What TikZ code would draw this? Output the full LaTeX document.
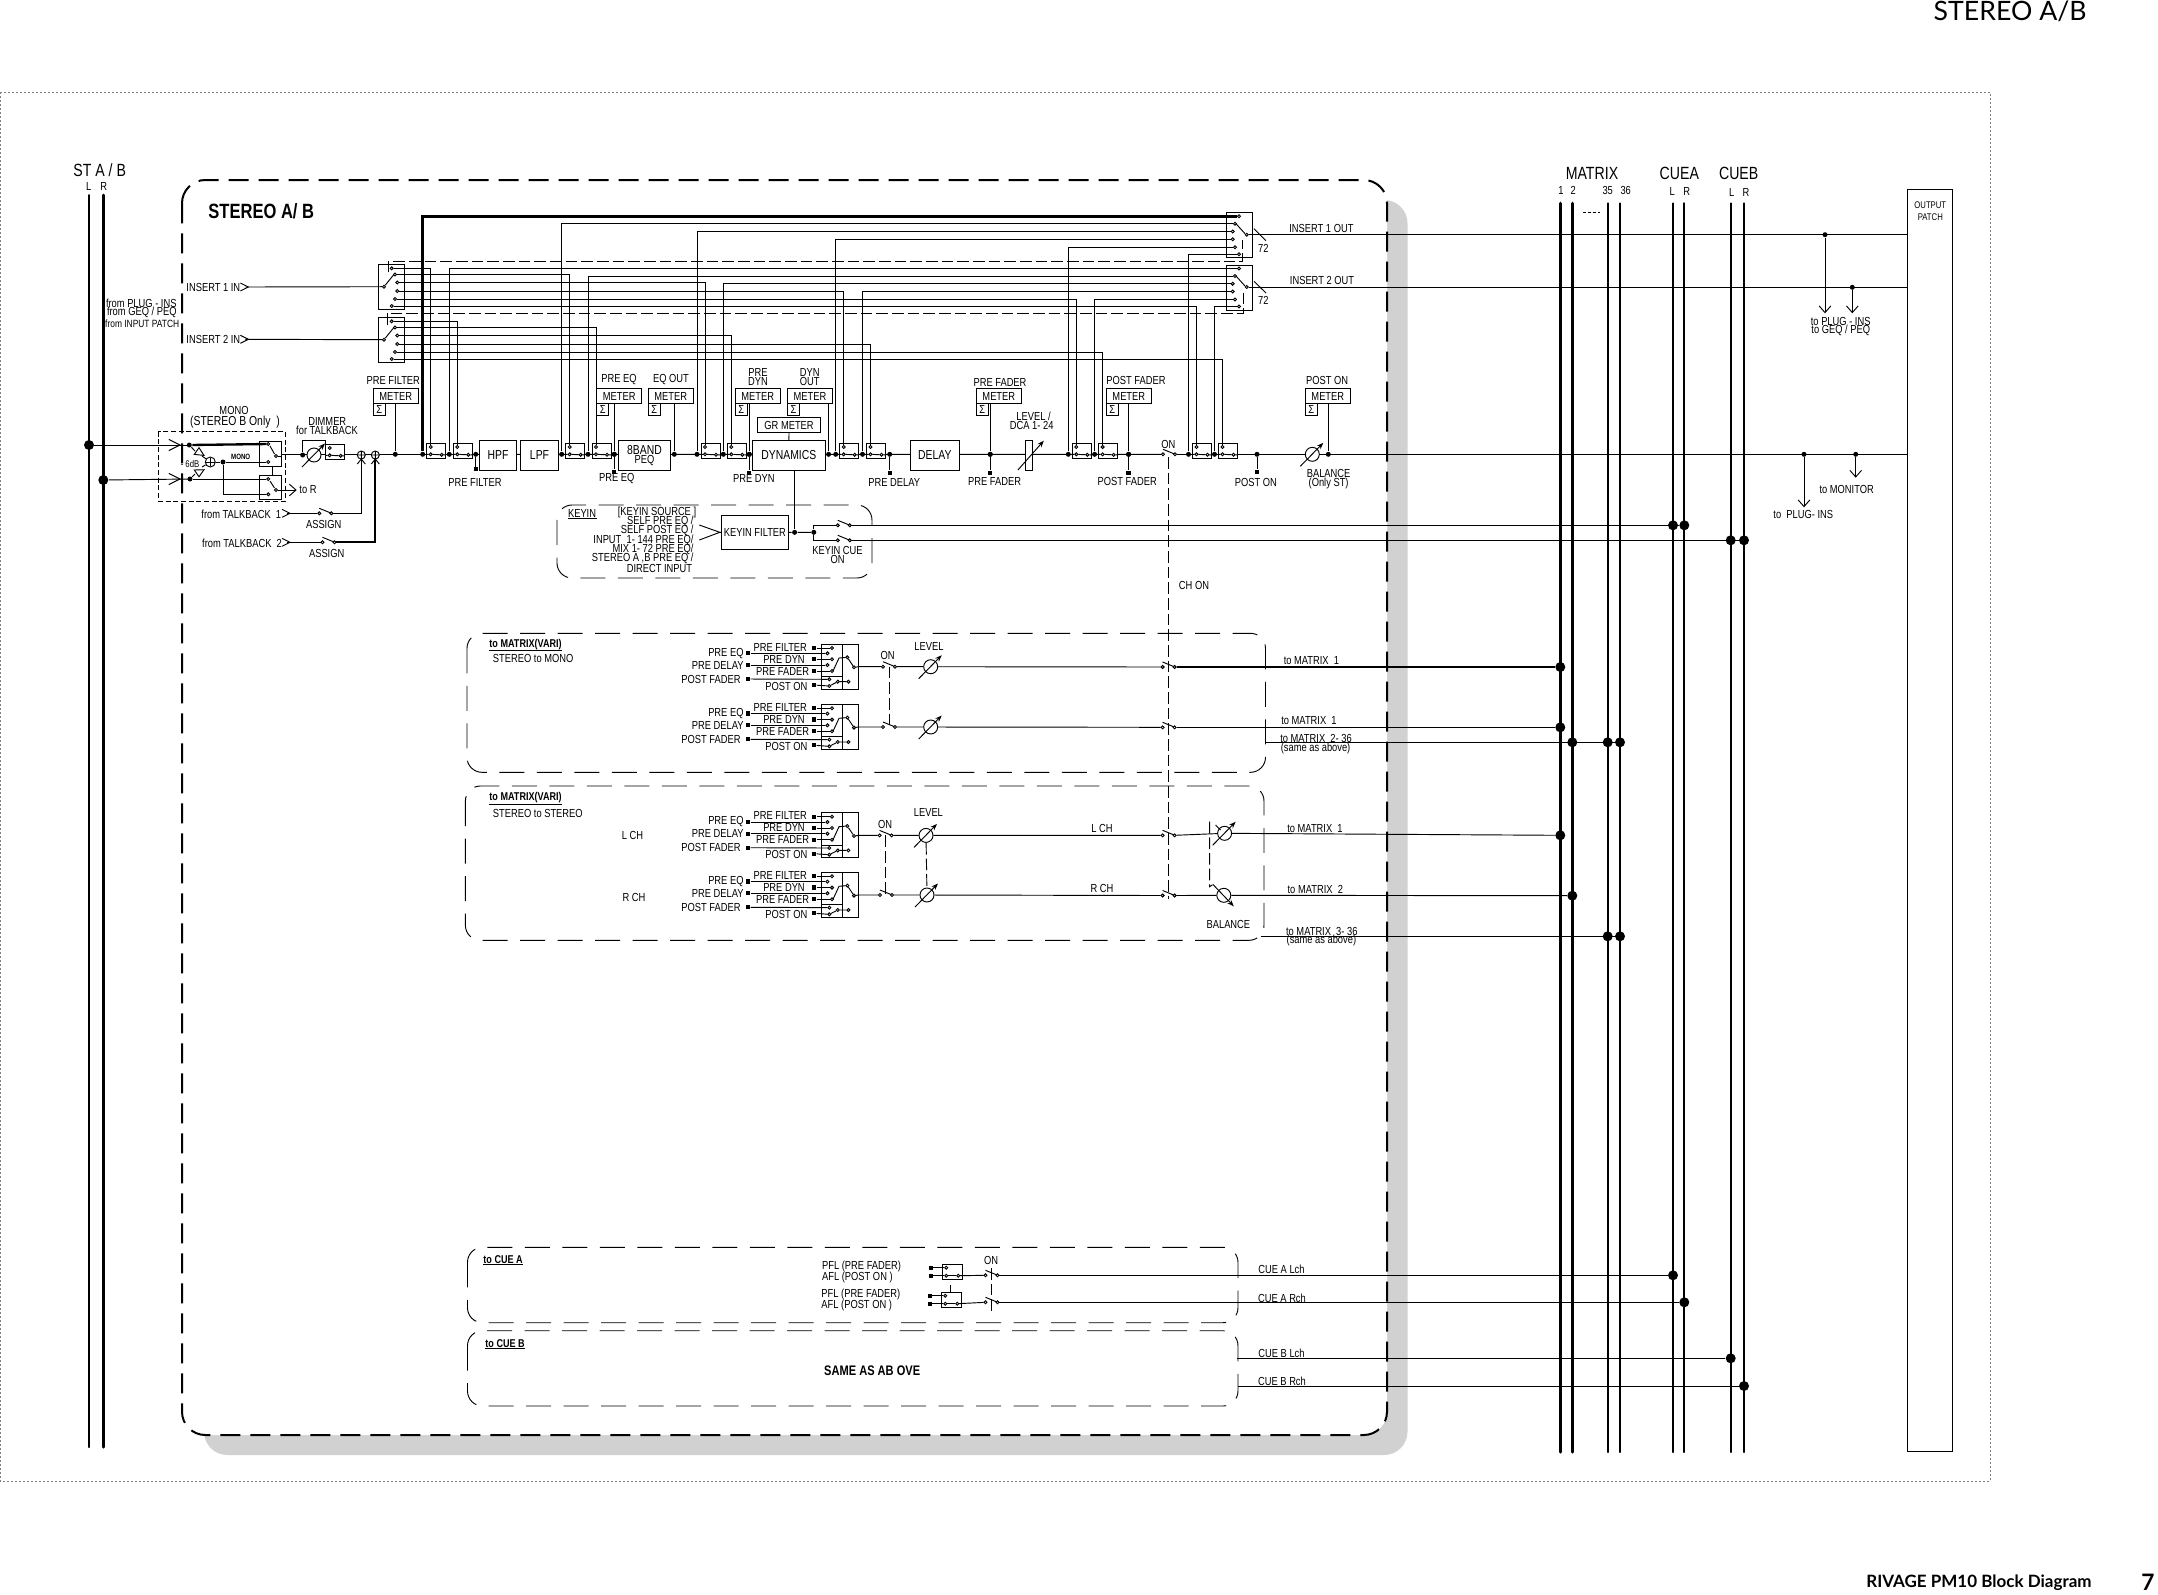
\documentclass[tikz,border=0pt]{standalone}
\usepackage{fontspec}
\setmainfont[FakeStretch=0.8]{Liberation Sans}
\newfontfamily\pagefont{Lato}
\usetikzlibrary{arrows.meta}

\newcommand{\fmain}{\fontsize{3.5}{2.7}\selectfont}
\newcommand{\fblock}{\fontsize{3.9}{3}\selectfont}
\newcommand{\fbig}{\fontsize{5.3}{5.3}\selectfont}
\newcommand{\ftiny}{\fontsize{2.9}{3.2}\selectfont}
\newcommand{\fbold}{\fontsize{3.4}{3.4}\selectfont\bfseries}
\newcommand{\bx}[6]{\node[blk,minimum width={(#4-#2)*0.3pt},minimum height={(#5-#3)*0.3pt}] (#1) at ({(#2+#4)/2},{(#3+#5)/2}) {#6};}

\tikzset{
	blk/.style={draw,fill=white,inner sep=0pt,align=center,font=\fmain},
	lab/.style={inner sep=0pt,align=center,font=\fmain},
	pin/.style={circle,draw,fill=white,inner sep=0pt,minimum size=0.9pt},
	dot/.style={circle,fill=black,inner sep=0pt,minimum size=1.5pt},
	bigdot/.style={circle,fill=black,inner sep=0pt,minimum size=3pt},
	sq/.style={rectangle,fill=black,inner sep=0pt,minimum size=1.3pt},
	bus/.style={line width=#1,line cap=round},
	tobarb/.style={-{Straight Barb[length=2pt,width=3.5pt]}},
	bigdash/.style={line width=0.6pt,dash pattern=on 6pt off 3pt,rounded corners=7pt},
	subdash/.style={dash pattern=on 7.5pt off 3.75pt,rounded corners=4.5pt},
	linkdash/.style={dash pattern=on 3.5pt off 1.2pt},
	faderc/.style={circle,draw,fill=white,inner sep=0pt,minimum size=4.2pt},
	sumc/.style={circle,draw,fill=white,inner sep=0pt,minimum size=2.4pt},
	inmark/.pic={\draw (-8,-4) -- (0,0) -- (-8,4); \coordinate (-o) at (-3,0);},
	onsw/.pic={\node[pin] (-l) at (-6,0) {}; \node[pin] (-r) at (6,0) {}; \draw (-6,-5) -- (5,-0.5);},
	fader/.pic={\node[faderc] (-c) {}; \draw[->] (-12,12) -- (11,-11.5);},
	faderdn/.pic={\node[faderc] (-c) {}; \draw[->] (-11,-11) -- (10,11);},
	sumx/.pic={\node[sumc] (-c) {}; \draw (-4,0) -- (4,0) (0,-4) -- (0,4) (-4,9) -- (0,4) -- (4,9);},
	inline/.pic={
		\node[blk,minimum width=5.7pt,minimum height=4.5pt] (-box) at (9.5,7.5) {};
		\node[pin] (-t) at (4,3.7) {};
		\node[pin] (-l) at (4,11) {};
		\node[pin] (-r) at (15,11.5) {};
		\draw (0,11) -- (-l) (-l) -- (-r) (-r) -- (19,11.5);
	},
	inswitch/.pic={
		\node[blk,minimum width=7.8pt,minimum height=13.5pt] (-box) at (13,22.5) {};
		\foreach \k/\cx/\cy in {1/13.7/4.3,2/17/10.5,3/19.3/18.5,4/19.3/27,5/17/35,6/13.7/42}
			{\node[pin] (-c\k) at (\cx,\cy) {};}
		\node[pin] (-com) at (6,22.7) {};
		\draw (-com) -- (15.5,11);
	},
	outswitch/.pic={
		\node[blk,minimum width=7.9pt,minimum height=13.5pt] (-box) at (13.2,22.5) {};
		\foreach \k/\cx/\cy in {1/12.7/3.5,2/8.7/11,3/6.4/18.8,4/6.4/26.5,5/8.7/34.5,6/12.7/41.5}
			{\node[pin] (-c\k) at (\cx,\cy) {};}
		\node[pin] (-com) at (20.4,22) {};
		\draw (9.7,11) -- (18.7,21);
	},
	sendunit/.pic={
		\node[blk,minimum width=6.42pt,minimum height=13.5pt] (-a) at (87,22.5) {};
		\node[blk,minimum width=4.7pt,minimum height=13.5pt] (-b) at (105.5,22.5) {};
		\node[blk,minimum width=6.42pt,minimum height=3.7pt] (-c) at (87,38.8) {};
		\foreach \k/\cx/\cy in {1/87/4,2/82.4/9.3,3/87/15.3,4/82.4/21,5/87/27}
			{\node[pin] (-p\k) at (\cx,\cy) {};}
		\node[pin] (-q1) at (102.3,13.3) {};
		\node[pin] (-q2) at (103.4,37.7) {};
		\node[pin] (-out) at (109,23.3) {};
		\node[pin] (-l1) at (84.3,35.3) {};
		\node[pin] (-l2) at (84.3,42) {};
		\node[pin] (-l3) at (92.8,37.7) {};
		\foreach \k/\cx/\cy in {2/3/9.3,4/3/21,6/3/35,1/69/4,3/69/15.3,5/69/27,7/69/41}
			{\node[sq] (-s\k) at (\cx,\cy) {};}
		\foreach \k in {1,2,3,4,5} {\draw (-s\k) -- (-p\k);}
		\draw (-s6) -- (-l1) (-s7) -- (-l2) (-l2) -- (-l3) (-l3) -- (-q2);
		\draw (88,27) -- (94,14) -- (-q1) (-q1) -- (-out);
		\node[lab,anchor=east] (-t1) at (-1,9.3) {PRE EQ};
		\node[lab,anchor=east] (-t2) at (-1,21) {PRE DELAY};
		\node[lab,anchor=east] (-t3) at (-4,35) {POST FADER};
		\node[lab] (-t4) at (35.3,3) {PRE FILTER};
		\node[lab] (-t5) at (39,15) {PRE DYN};
		\node[lab] (-t6) at (37.6,27) {PRE FADER};
		\node[lab] (-t7) at (41.4,42) {POST ON};
	},
	cuesel/.pic={
		\node[blk,minimum width=6pt,minimum height=4.6pt] (-box) at (10,7.7) {};
		\node[sq] (-s1) at (-11.5,3.4) {};
		\node[sq] (-s2) at (-11.5,11.4) {};
		\node[pin] (-p1) at (4,3.4) {};
		\node[pin] (-p2) at (4,11.4) {};
		\node[pin] (-r) at (16,11.4) {};
		\draw (-s1) -- (-p1) (-s2) -- (-p2) (-p2) -- (-r) (-r) -- (20,11.4);
	}
}

\begin{document}
\begin{tikzpicture}[x=0.3pt,y=-0.3pt,line width=0.28pt,>={Stealth[length=2pt,width=1.5pt]}]
	\useasboundingbox (0,0) rectangle (2158,1594);

	% page texts and frame
	\node[inner sep=0pt,font=\pagefont\fontsize{8}{8}\selectfont,anchor=east] (pagetitle) at (2087,11.5) {STEREO A/B};
	\node[inner sep=0pt,font=\pagefont\fontsize{5.1}{5.1}\selectfont\bfseries,anchor=east] (pagefoot) at (2092,1583) {RIVAGE PM10 Block Diagram};
	\node[inner sep=0pt,font=\pagefont\fontsize{6.8}{6.8}\selectfont\bfseries,anchor=east] (pagenum) at (2155,1582.5) {7};
	\draw[gray,line width=0.25pt,dash pattern=on 0.6pt off 0.6pt] (0.5,92) rectangle (1990,1481);

	% channel block with its shadow
	\fill[black!18,rounded corners=7pt] (204,200) rectangle (1407.5,1455);
	\fill[white,rounded corners=7pt] (182,180) rectangle (1387,1435);
	\draw[bigdash] (182,180) rectangle (1387,1435);
	\draw[subdash] (467,633.3) rectangle (1265.5,772.3);
	\draw[subdash] (465.4,786) rectangle (1264,940.3);
	\draw[subdash] (467.5,1247.3) rectangle (1238,1322.7);
	\draw[subdash] (467.5,1330.7) rectangle (1238,1406);
	\draw[subdash] (557,505) rectangle (872,578);
	\draw[dash pattern=on 1.5pt off 0.8pt] (158.3,431.7) rectangle (285.7,501);

	% busses
	\foreach \n/\x/\w in {stl/89/0.6pt,str/103.3/0.9pt}
		{\draw[bus=\w] (\x,195) coordinate (\n a) -- (\x,1447) coordinate (\n b);}
	\foreach \n/\x/\w in {m1/1560.3/0.95pt,m2/1572.3/0.95pt,m35/1607.7/0.6pt,m36/1620/0.6pt,cal/1673/0.6pt,car/1684.3/0.7pt,cbl/1730.7/0.6pt,cbr/1744/0.6pt}
		{\draw[bus=\w] (\x,203.3) coordinate (\n a) -- (\x,1452) coordinate (\n b);}
	\draw[dash pattern=on 0.9pt off 0.6pt] (1583,212.3) coordinate (mdots) -- (1600,212.3);
	\bx{patch}{1907.3}{189.3}{1952.7}{1451}{}
	\node[lab,font=\ftiny] (patchtxt) at (1930.3,211) {OUTPUT\\[0.5pt]PATCH};

	\foreach \n/\x/\y in {dL/89/445,dR/103.3/480,dm1/1560.3/667,dm2/1560.3/727.3,dma/1572.3/742.3,dmb/1607.7/742.3,dmc/1620/742.3,dm3/1560.3/835.3,dm4/1572.3/895.7,dmd/1607.7/936.3,dme/1620/936.3,dka/1673/525.3,dkb/1684.3/525.3,dkc/1730.7/540.3,dkd/1744/540.3,dca/1673/1275.3,dcb/1684.3/1302.3,dcc/1730.7/1358.3,dcd/1744/1386}
		{\node[bigdot] (\n) at (\x,\y) {};}

	% main line, drawn under the boxes
	\coordinate (mnA) at (281.7,454.5);
	\pic (onm) at (1169,454.3) {onsw};
	\draw (mnA) -- (onm-l);
	\draw (onm-r) -- (onm-r -| patch.west);

	% filters and processors
	\bx{hpf}{479.3}{440.7}{516.7}{470.3}{\fblock HPF}
	\bx{lpf}{520.3}{440.7}{558.7}{470.3}{\fblock LPF}
	\bx{peq}{618.3}{440.7}{670.7}{470.3}{\fblock 8BAND\\PEQ}
	\bx{dyn}{752.2}{440.3}{825.4}{470.3}{\fblock DYNAMICS}
	\bx{grm}{757.6}{417.3}{820.5}{432.7}{GR METER}
	\bx{dly}{910.3}{440.3}{959.4}{470.3}{\fblock DELAY}
	\bx{lvl}{1025.4}{440.3}{1032.6}{470.3}{}
	\draw[->] (1017.9,470) -- (1043.8,440.7);
	\draw (grm) -- (dyn);
	\pic (balm) at (1312.3,454.3) {fader};

	% insert switches
	\pic (is1) at (378,264) {inswitch};
	\pic (is2) at (378,317) {inswitch};
	\pic (os1) at (1226.3,212.7) {outswitch};
	\pic (os2) at (1226.3,265) {outswitch};
	\pic (mk1) at (248.4,287) {inmark};
	\pic (mk2) at (248.4,339.3) {inmark};
	\draw (mk1-o) -- (is1-com);
	\draw (mk2-o) -- (is2-com);
	\draw (os1-com) -- (os1-com -| patch.west);
	\draw (os2-com) -- (os2-com -| patch.west);
	\draw (1254,228.7) -- (1266,240.7);
	\draw (1254,281.3) -- (1266,293);
	\draw[linkdash] (388,272) |- (1242.7,261.7) -- (1242.7,240);
	\draw[linkdash] (387,325) |- (1243.7,313) -- (1243.7,292);

	% inline insert points
	\foreach \n/\sa/\sb/\w in {1/422.7/449.3/0.8,2/561.7/588/0.28,3/697/723.3/0.28,4/835.7/862.5/0.28,5/1068.3/1094.6/0.28,6/1188.5/1214.5/0.28}{
		\pic (sa\n) at (\sa+4,443.3) {inline};
		\pic (sb\n) at (\sb+4,443.3) {inline};
		\node[dot] (ma\n) at (\sa,454.3) {};
		\node[dot] (mb\n) at (\sb,454.3) {};
		\draw[line width=\w pt] (ma\n) |- (os1-c\n);
		\draw (mb\n) |- (os2-c\n);
		\draw (is1-c\n) -| (sa\n-t);
		\draw (is2-c\n) -| (sb\n-t);
	}

	% meters
	\foreach \n/\x/\lx in {a/373.3/395.3,b/596.7/614.3,c/648.3/674.3,d/735.3/749.2,e/787.5/828.6,f/976.3/990.2,g/1106.3/1128.6,h/1305.3/1328.3}{
		\node[blk,minimum width=13.5pt,minimum height=4.6pt] (mt\n) at (\x+22.5,396) {METER};
		\node[blk,minimum width=3.6pt,minimum height=3.5pt] (sg\n) at (\x+6,409.6) {Σ};
		\node[dot] (tp\n) at (\lx,454.3) {};
		\draw (tp\n |- mt\n.south) -- (tp\n);
	}

	% direct out taps
	\foreach \n/\x/\y in {a/475.7/469.3,b/614.3/471.7,c/749.3/472.7,d/889.7/472.7,e/990.2/472.7,f/1128.6/472.7,g/1257/472}{
		\node[dot] (dt\n) at (\x,454.3) {};
		\node[sq] (ds\n) at (\x,\y) {};
		\draw (dt\n) -- (ds\n);
	}

	% mono section
	\draw (dL) -- (189.3,445) coordinate (mL);
	\draw (dR) -- (190,479) coordinate (mR);
	\pic[scale=1.4] (mkL) at (180,445) {inmark};
	\pic[scale=1.4] (mkR) at (180,479) {inmark};
	\node[dot] (mLd) at (mL) {};
	\node[dot] (mRd) at (mR) {};
	\bx{msa}{259.3}{441.7}{281.7}{466.7}{}
	\bx{msb}{259.3}{475.3}{281.7}{499.3}{}
	\foreach \n/\x/\y in {a1/268.3/444,a2/268.3/462,a3/276/456,b1/268.3/479,b2/268.3/494.3,b3/276/490}
		{\node[pin] (ms\n) at (\x,\y) {};}
	\draw[line width=0.7pt] (mLd) -- (msa1);
	\draw (mRd) -- (msb1);
	\draw (270,446) -- (274.5,454) (270,481) -- (274.5,488);
	\draw (msa3) -- (msa3 -| msa.east);
	\draw (272.7,466.7) -- (272.7,475.3);
	\draw[tobarb] (msb3) -- (296.7,490) coordinate (toR);
	\node[sumc,minimum size=3pt] (msum) at (210.3,462) {};
	\draw (206,462) -- (214.6,462) (210.3,457.7) -- (210.3,466.3);
	\node[dot] (mjn) at (223,462) {};
	\draw (msum) -- (mjn) -- (msa2);
	\draw (mjn) |- (msb2);
	\draw (mLd) -- (195,451) (202,456) -- (msum);
	\draw (mRd) -- (195,474) (202,467) -- (msum);
	\draw[fill=white] (194.3,454.4) -- (199,447.7) -- (204,455.4) -- cycle;
	\draw[fill=white] (194.3,470) -- (204,469.7) -- (199,476.7) -- cycle;
	\node[lab,font=\ftiny] (m6db) at (190,464.3) {- 6dB};
	\node[lab,font=\fontsize{2.3}{2.3}\selectfont\bfseries] (mmono) at (240.7,457.3) {MONO};

	% dimmer and talkback
	\node[dot] (dimd) at (302.7,455) {};
	\pic (dimf) at (314,455) {fader};
	\pic (dimsw) at (325.7,444.3) {inline};
	\draw (dimd) |- (325.7,440.7) -- (325.7,444.3);
	\pic (sm1) at (361.3,455) {sumx};
	\pic (sm2) at (375.3,455) {sumx};
	\pic (mk3) at (290,513.3) {inmark};
	\pic (mk4) at (290,542.3) {inmark};
	\pic (asg1) at (325.3,513.3) {onsw};
	\pic (asg2) at (328.5,542.3) {onsw};
	\draw (mk3-o) -- (asg1-l);
	\draw (mk4-o) -- (asg2-l);
	\draw (asg1-r) -| (sm1-c);
	\draw[line width=0.6pt] (asg2-r) -| (sm2-c);

	% key in
	\bx{kfl}{721.4}{515.7}{788.4}{549.3}{KEYIN FILTER}
	\draw (699.3,525) -- (719.8,532.3) coordinate (kgt) -- (699.3,540);
	\draw (kgt) -- (kfl);
	\node[dot] (kfd) at (794.6,532.3) {};
	\node[dot] (kfj) at (813.8,532.3) {};
	\draw (kfl) -- (kfd) -- (kfj);
	\draw (dyn.south -| kfd) -- (kfd);
	\pic (kon1) at (843.8,525.3) {onsw};
	\pic (kon2) at (843.8,540.3) {onsw};
	\draw (kon1-l) -| (kfj) |- (kon2-l);
	\draw (kon1-r) -- (dkb);
	\draw (kon2-r) -- (dkd);

	% sends to matrix
	\draw[linkdash] (1168.3,457) coordinate (cha) -- (1168.3,899) coordinate (chend);
	\foreach \n/\y/\lx/\fx/\chy in {1/644/889/930.7/667,2/704.3/889/930.7/727.3,3/812.7/885.6/926/835.3,4/872.3/886/927/895.5}{
		\pic (su\n) at (745,\y) {sendunit};
		\pic (on\n) at (\lx,\y+22.7) {onsw};
		\pic (fd\n) at (\fx,\y+22.7) {fader};
		\pic (ch\n) at (1168.6,\chy) {onsw};
		\draw (su\n-out) -- (su\n-b.east |- on\n-l) -- (on\n-l);
		\draw (on\n-r) -- (fd\n-c) -- (ch\n-l);
	}
	\draw[linkdash] (889.4,666.7) coordinate (lka) -- (889.4,727) coordinate (lkb);
	\draw[linkdash] (885.6,835.4) coordinate (lkc) -- (885.6,895) coordinate (lkd);
	\draw[linkdash] (fd3-c) -- (fd4-c);
	\draw[line width=0.6pt] (ch1-r) -- (dm1);
	\draw (ch2-r) -- (dm2);
	\draw (1265.5,742.3) coordinate (m36start) -- (dmc);
	\pic (bal1) at (1224.6,833.3) {fader};
	\pic (bal2) at (1223.8,895.3) {faderdn};
	\draw (ch3-r) -- (bal1-c) -- (dm3);
	\draw (ch4-r) -- (bal2-c) -- (dm4);
	\draw (1260.5,936.3) coordinate (m3start) -- (dme);
	\draw (1215.6,825) -- (1220.5,830);
	\draw[linkdash] (1209.6,821.7) coordinate (bala) -- (1209.6,886.7) coordinate (balb) -- (1212.3,885);

	% sends to cue
	\pic (cs1) at (942.2,1264.3) {cuesel};
	\pic (cs2) at (941.2,1292.3) {cuesel};
	\pic (con1) at (991.5,1275.3) {onsw};
	\pic (con2) at (991.5,1302.3) {onsw};
	\draw (cs1-r) -- (con1-l);
	\draw (cs2-r) -- (con2-l);
	\draw (con1-r) -- (dca);
	\draw (con2-r) -- (dcb);
	\draw[linkdash] (991,1268) coordinate (cla) -- (991,1313) coordinate (clb);
	\draw (950.8,1285) coordinate (clc) -- (950.8,1292.3);
	\draw (1237,1358.3) coordinate (cbs) -- (dcc);
	\draw (1238,1386) coordinate (cbe) -- (dcd);

	% output taps
	\node[dot] (ota) at (1825,234.7) {};
	\node[dot] (otb) at (1852.3,287.3) {};
	\node[dot] (otc) at (1804,454.3) {};
	\node[dot] (otd) at (1855.7,454.3) {};
	\draw[tobarb] (ota) -- (1825,313.3) coordinate (ara);
	\draw[tobarb] (otb) -- (1852.3,313.3) coordinate (arb);
	\draw[tobarb] (otc) -- (1804,507.3) coordinate (arc);
	\draw[tobarb] (otd) -- (1855.7,477.7) coordinate (ard);

	% labels
	\foreach \x/\y/\txt [count=\n] in {99.7/170/{ST A / B},1592/173.3/MATRIX,1679.3/173.3/CUEA,1738.7/173.3/CUEB}
		{\node[lab,font=\fbig] (hd\n) at (\x,\y) {\txt};}
	\foreach \x/\y/\txt [count=\n] in {88.6/186.7/L,103.7/186.7/R,1561/190.7/1,1573.3/190.7/2,1607.7/190.7/35,1625.7/190.7/36,1672.3/191.7/L,1686.7/191.7/R,1731.7/192.3/L,1746/192.3/R,
		234/410.7/MONO,235/421.7/{\fontsize{3.9}{3}\selectfont (STEREO B Only\ \ )},327.3/421.7/DIMMER,327/430.7/for TALKBACK,
		393.3/380/PRE FILTER,619/380/PRE EQ,671/380/EQ OUT,758/372.3/PRE,758/381.3/DYN,809.8/372.3/DYN,809.8/381.3/OUT,1000/382/PRE FADER,1136/380/POST FADER,1327.2/380/POST ON,
		1033.5/416/{LEVEL /},1031.7/425.3/DCA 1- 24,1168.3/444.3/ON,1321.4/228.3/INSERT 1 OUT,1322/280/INSERT 2 OUT,1263.3/248.3/72,1263.3/300.7/72,
		475/482.3/PRE FILTER,616.7/479/PRE EQ,753.9/478.3/PRE DYN,894.2/482/PRE DELAY,994.6/481/PRE FADER,1127.2/481/POST FADER,1255.8/482/POST ON,1328.6/473/BALANCE,1328.6/483.3/(Only ST),
		323.7/524/ASSIGN,326.7/553.3/ASSIGN,657/512.3/{[KEYIN SOURCE ]},837.5/550.3/KEYIN CUE,837.5/559.3/ON,1194/585/CH ON,
		887.5/655/ON,929/646/LEVEL,632.6/835/L CH,634/897/R CH,885/824/ON,928.4/812/LEVEL,1102/828/L CH,1102/888/R CH,1228.4/924/BALANCE,
		1311.4/661/to MATRIX\ \ 1,1309/721/to MATRIX\ \ 1,1316/738.7/to MATRIX\ \ 2- 36,1315.6/748.3/(same as above),1315/828.3/to MATRIX\ \ 1,1315.3/889/to MATRIX\ \ 2,1321.8/931/to MATRIX\ \ 3- 36,1321.4/940.7/(same as above),
		991/1260/ON,1281.5/1269/CUE A Lch,1282/1298/CUE A Rch,1281.5/1353/CUE B Lch,1282/1381.3/CUE B Rch,
		1840.7/321/to PLUG - INS,1840.7/330/{to GEQ / PEQ},1846.7/489.3/to MONITOR,1803.3/514/to\ \ PLUG- INS}
		{\node[lab] (lb\n) at (\x,\y) {\txt};}
	\foreach \x/\y/\txt [count=\n] in {177/303.3/from PLUG - INS,177/312.3/{from GEQ / PEQ},179.6/323.3/{\fontsize{3.15}{3}\selectfont from INPUT PATCH},
		694/521/{SELF PRE EQ /},694/530/{SELF POST EQ /},694/540/{INPUT\ \ 1- 144 PRE EQ/},694/549/{MIX 1- 72 PRE EQ/},694/558/{STEREO A ,B PRE EQ /},692.6/568/DIRECT INPUT}
		{\node[lab,anchor=east] (re\n) at (\x,\y) {\txt};}
	\foreach \x/\y/\txt [count=\n] in {186/287/INSERT 1 IN,186/339.3/INSERT 2 IN,201/514/from TALKBACK\ \ 1,201.7/543.3/from TALKBACK\ \ 2,299/490/to R,
		492.5/658.3/STEREO to MONO,492.5/813.3/STEREO to STEREO,821.7/1266.7/PFL (PRE FADER),821.7/1277.3/AFL (POST ON ),821/1294/PFL (PRE FADER),821/1305.3/AFL (POST ON )}
		{\node[lab,anchor=west] (le\n) at (\x,\y) {\txt};}
	\node[lab,anchor=west] (keyinhd) at (567.6,513) {KEYIN};
	\draw ([yshift=-0.3pt]keyinhd.south west) -- ([yshift=-0.3pt]keyinhd.south east);
	\foreach \x/\y/\txt [count=\n] in {489/644.3/to MATRIX(VARI),489/798/to MATRIX(VARI),483/1259.3/to CUE A,485/1343.3/to CUE B}{
		\node[lab,anchor=west,font=\fbold] (ul\n) at (\x,\y) {\txt};
		\draw ([yshift=-0.2pt]ul\n.south west) -- ([yshift=-0.2pt]ul\n.south east);
	}
	\node[lab,anchor=west,font=\fontsize{6.2}{6.2}\selectfont\bfseries] (blockname) at (208,211.7) {STEREO A/ B};
	\node[lab,font=\fontsize{4.15}{4.15}\selectfont\bfseries] (sameas) at (872.2,1371) {SAME AS AB OVE};
\end{tikzpicture}
\end{document}
